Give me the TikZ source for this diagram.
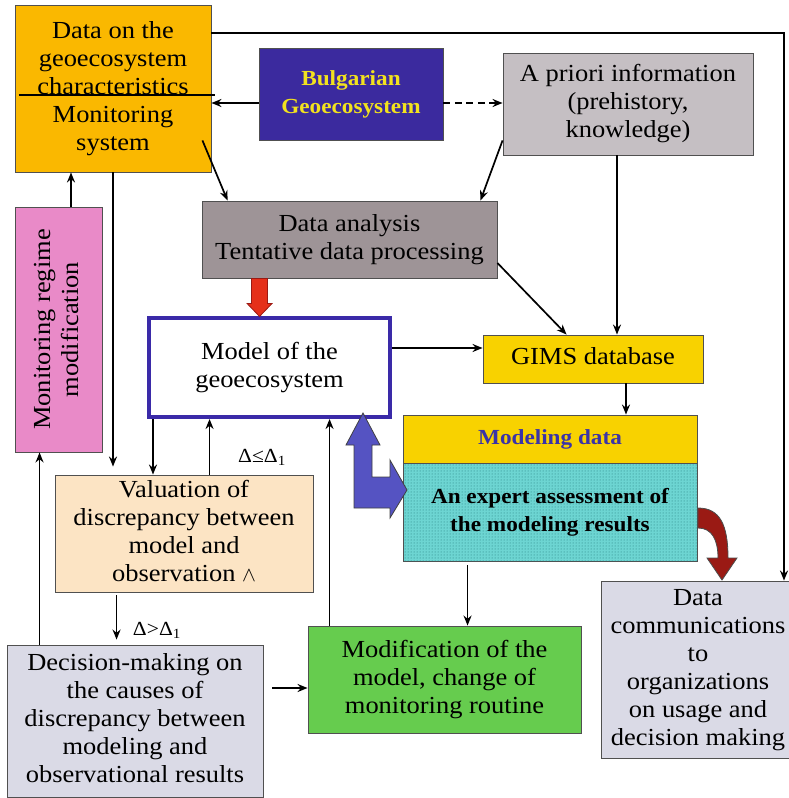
\documentclass[tikz,border=0pt]{standalone}
\usepackage{fontspec}
\setmainfont{Liberation Serif}[FakeStretch=1.08]
\usetikzlibrary{arrows.meta,patterns,calc}

\definecolor{orangebox}{HTML}{FAB800}
\definecolor{indigobox}{HTML}{3B2A9E}
\definecolor{yellowtext}{HTML}{F2E21E}
\definecolor{greybox}{HTML}{C5BFC3}
\definecolor{darkgreybox}{HTML}{9E9497}
\definecolor{modelline}{HTML}{3A2AA8}
\definecolor{yellowbox}{HTML}{F8D200}
\definecolor{bluetext}{HTML}{3A33A8}
\definecolor{cyanbox}{HTML}{6DD5D2}
\definecolor{cyandots}{HTML}{237A78}
\definecolor{pinkbox}{HTML}{E98AC8}
\definecolor{peachbox}{HTML}{FCE4C4}
\definecolor{lavenderbox}{HTML}{DADAE6}
\definecolor{greenbox}{HTML}{66CC4E}
\definecolor{redarrow}{HTML}{E5301A}
\definecolor{bluearrow}{HTML}{5553C2}
\definecolor{maroonarrow}{HTML}{9A1A14}
\definecolor{boxline}{HTML}{505050}

\newcommand\bodyfont{\fontsize{24.5}{28}\selectfont}
\newcommand\boldfont{\fontsize{21.5}{28}\selectfont\bfseries}
\newcommand\lines[2]{\raisebox{#1}{\begin{tabular}{@{}c@{}}#2\end{tabular}}}

\begin{document}
\begin{tikzpicture}[x=1pt,y=-1pt,
  box/.style={draw=boxline, line width=0.9pt, inner sep=0pt, align=center, font=\bodyfont},
  arr/.style={line width=1.7pt, -{Stealth[length=10pt,width=8pt]}},
  lbl/.style={inner sep=0pt, font=\fontsize{20}{22}\selectfont}]

\useasboundingbox (0,0) rectangle (789,798);

% boxes
\node[box, fill=orangebox, minimum width=196, minimum height=167] (data) at (113,88.5)
  {\lines{5pt}{Data on the\\geoecosystem\\characteristics\\Monitoring\\system}};
\draw[line width=1.5pt] ($(data.west)+(4,6.5)$) -- ($(data.east)+(4,6.5)$);

\node[box, fill=indigobox, minimum width=184, minimum height=92, font=\boldfont, text=yellowtext] (bulg) at (351,94)
  {\lines{0pt}{Bulgarian\\Geoecosystem}};

\node[box, fill=greybox, minimum width=250, minimum height=102] (apri) at (628,104)
  {\lines{-6pt}{A priori information\\(prehistory,\\knowledge)}};

\node[box, fill=darkgreybox, minimum width=295, minimum height=77] (dana) at (349.5,239.5)
  {\lines{1pt}{Data analysis\\Tentative data processing}};

\node[box, draw=modelline, line width=4pt, fill=white, minimum width=241, minimum height=99] (model) at (269.5,367.5)
  {\lines{5.5pt}{Model of the\\geoecosystem}};

\node[box, fill=yellowbox, minimum width=220, minimum height=48] (gims) at (593,359)
  {\lines{2pt}{GIMS database}};

\node[box, fill=yellowbox, minimum width=294, minimum height=48, font=\boldfont, text=bluetext] (mdata) at (550,439)
  {\lines{2pt}{Modeling data}};

\node[box, fill=cyanbox, minimum width=294, minimum height=98, font=\boldfont,
  postaction={pattern=dots, pattern color=cyandots}] (expert) at (550,512) {};
\node[inner sep=0pt, align=center, font=\boldfont] (experttext) at (550,512)
  {\lines{5.5pt}{An expert assessment of\\the modeling results}};

\node[box, fill=pinkbox, minimum width=87, minimum height=245] (pink) at (58.5,329.5)
  {\rotatebox{90}{\lines{0pt}{Monitoring regime\\modification}}};

\node[box, fill=peachbox, minimum width=258, minimum height=117] (val) at (184,533.5)
  {\lines{-1pt}{Valuation of\\discrepancy between\\model and\\observation {\fontsize{21}{22}\selectfont$\wedge$}}};

\node[box, fill=lavenderbox, minimum width=256, minimum height=152] (dec) at (135,721)
  {\lines{-2.5pt}{Decision-making on\\the causes of\\discrepancy between\\modeling and\\observational results}};

\node[box, fill=greenbox, minimum width=273, minimum height=107] (mod) at (444.5,679.5)
  {\lines{4.5pt}{Modification of the\\model, change of\\monitoring routine}};

\node[box, fill=lavenderbox, minimum width=194, minimum height=177] (comm) at (698,669.5)
  {\lines{0.5pt}{Data\\communications\\to\\organizations\\on usage and\\decision making}};

% connectors
\coordinate (p1) at ($(bulg.west)+(0,9)$);
\draw[arr] (p1) -- (p1 -| data.east);
\coordinate (p2) at ($(bulg.east)+(0,9)$);
\draw[arr, dash pattern=on 7pt off 4.5pt] (p2) -- (p2 -| apri.west);

\coordinate (rc) at (784,33);
\draw[arr] (rc -| data.east) -- (rc) -- (rc |- comm.north);

\draw[arr] ($(data.south east)+(-9,-32)$) -- ($(dana.north west)+(26,0)$);
\draw[arr] ($(apri.south west)+(0,-15)$) -- ($(dana.north east)+(-17,0)$);

\coordinate (p3) at ($(apri.south)+(-11,0)$);
\draw[arr] (p3) -- (p3 |- gims.north);
\draw[arr] ($(dana.east)+(0,23.5)$) -- ($(gims.north west)+(84,0)$);

\coordinate (p4) at ($(model.east)+(0,-19.5)$);
\draw[arr] (p4) -- (p4 -| gims.west);

\coordinate (p5) at ($(gims.south)+(33,0)$);
\draw[arr] (p5) -- (p5 |- mdata.north);

\draw[arr, shorten >=8pt] (data.south) -- (data.south |- val.north);

\coordinate (p6) at ($(pink.north)+(12.5,0)$);
\draw[arr] (p6) -- (p6 |- data.south);

\coordinate (p7) at ($(dec.north west)+(33,0)$);
\draw[arr] (p7) -- (p7 |- pink.south);

\coordinate (p8) at ($(model.south west)+(6,0)$);
\draw[arr] (p8) -- (p8 |- val.north);

\coordinate (p9) at ($(val.north west)+(155,0)$);
\draw[arr] (p9) -- (p9 |- model.south);

\coordinate (p10) at ($(val.south west)+(62,0)$);
\draw[arr, shorten <=3pt, shorten >=5pt] (p10) -- (p10 |- dec.north);

\coordinate (p11) at ($(dec.east)+(0,-33)$);
\draw[arr, shorten <=9pt] (p11) -- (p11 -| mod.west);

\coordinate (p12) at ($(mod.north west)+(22,0)$);
\draw[arr] (p12) -- (p12 |- model.south);

\coordinate (p13) at ($(expert.south west)+(65,0)$);
\draw[arr, shorten <=4pt] (p13) -- (p13 |- mod.north);

% threshold labels
\node[lbl] (le) at (262,457) {Δ≤Δ\textsubscript{1}};
\node[lbl] (gt) at (157,630) {Δ>Δ\textsubscript{1}};

% thick red arrow from the analysis to the model
\coordinate (rs) at ($(dana.south west)+(58,0)$);
\begin{scope}[shift={(rs)}]
  \draw[fill=redarrow, draw=maroonarrow, line width=0.8pt]
    (-8,0) -- (-8,25) -- (-12.5,25) -- (0,38) -- (12.5,25) -- (8,25) -- (8,0) -- cycle;
\end{scope}

% blue two-way arrow between the model and the expert assessment
\draw[fill=bluearrow, draw=black!75, line width=0.8pt]
  (363,413) -- (380,445) -- (372,445) -- (372,477) -- (390,477) -- (390,460)
  -- (407,490) -- (390,518) -- (390,508) -- (354,508) -- (354,445) -- (346,445) -- cycle;

% curved dark red arrow to the data communications
\draw[fill=maroonarrow, draw=black!70, line width=0.8pt]
  (698,508) .. controls (720,508) and (728,525) .. (728,558)
  -- (737,558) -- (722,580) -- (707,558) -- (718,558)
  .. controls (718,540) and (712,528) .. (698,528) -- cycle;

\end{tikzpicture}
\end{document}
